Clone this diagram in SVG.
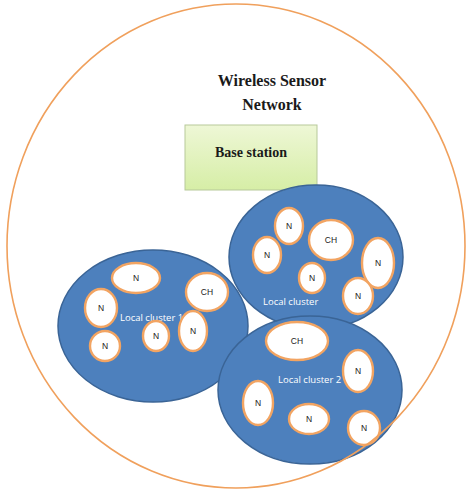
<svg xmlns="http://www.w3.org/2000/svg" width="467" height="492" viewBox="0 0 467 492">
  <defs>
    <linearGradient id="bsFill" x1="0" y1="0" x2="0" y2="1">
      <stop offset="0" stop-color="#EEF7D6"/>
      <stop offset="1" stop-color="#D6EEA6"/>
    </linearGradient>
  </defs>
  <style>
    .cluster { fill: #4D80BD; stroke: #3A6496; stroke-width: 1.5; }
    .node ellipse { fill: #FFFFFF; stroke: #F2A462; stroke-width: 2.4; }
    .node text { font-family: "Liberation Sans", Arial, sans-serif; font-size: 8.5px; fill: #1A1A1A; text-anchor: middle; dominant-baseline: central; }
    .clabel { font-family: "Open Sans", "Liberation Sans", sans-serif; font-size: 9.5px; fill: #FFFFFF; }
    .title { font-family: "Liberation Serif", "Times New Roman", serif; font-weight: bold; font-size: 16px; fill: #1A1A1A; text-anchor: middle; }
  </style>

  <!-- title -->
  <text class="title" x="272" y="86">Wireless Sensor</text>
  <text class="title" x="272" y="110">Network</text>

  <!-- base station -->
  <g id="base-station">
    <rect x="185" y="125" width="132" height="65" fill="url(#bsFill)" stroke="#B7C99A" stroke-width="1"/>
    <text x="251" y="157" font-family="Liberation Serif, 'Times New Roman', serif" font-weight="bold" font-size="14" fill="#1A1A1A" text-anchor="middle">Base station</text>
  </g>

  <!-- local cluster 1 -->
  <g id="cluster-1">
    <ellipse class="cluster" cx="153" cy="326" rx="95" ry="76"/>
    <text class="clabel" x="120" y="321">Local cluster 1</text>
    <g class="node" id="c1-n1"><ellipse cx="136" cy="278" rx="24" ry="15"/><text x="136" y="278">N</text></g>
    <g class="node" id="c1-ch"><ellipse cx="207" cy="292" rx="21" ry="19"/><text x="207" y="292">CH</text></g>
    <g class="node" id="c1-n2"><ellipse cx="101" cy="308" rx="16" ry="19"/><text x="101" y="308">N</text></g>
    <g class="node" id="c1-n3"><ellipse cx="105" cy="346" rx="15" ry="15"/><text x="105" y="346">N</text></g>
    <g class="node" id="c1-n4"><ellipse cx="156" cy="336" rx="13" ry="15"/><text x="156" y="336">N</text></g>
    <g class="node" id="c1-n5"><ellipse cx="193" cy="331" rx="14" ry="20"/><text x="193" y="331">N</text></g>
  </g>

  <!-- local cluster (upper right) -->
  <g id="cluster-0">
    <ellipse class="cluster" cx="316" cy="257" rx="87" ry="72"/>
    <text class="clabel" x="263" y="305">Local cluster</text>
    <g class="node" id="c0-n1"><ellipse cx="289" cy="226" rx="14" ry="18"/><text x="289" y="226">N</text></g>
    <g class="node" id="c0-ch"><ellipse cx="331" cy="240" rx="22" ry="20"/><text x="331" y="240">CH</text></g>
    <g class="node" id="c0-n2"><ellipse cx="267" cy="255" rx="14" ry="18"/><text x="267" y="255">N</text></g>
    <g class="node" id="c0-n3"><ellipse cx="312" cy="278" rx="13" ry="15"/><text x="312" y="278">N</text></g>
    <g class="node" id="c0-n4"><ellipse cx="378" cy="263" rx="16" ry="25"/><text x="378" y="263">N</text></g>
    <g class="node" id="c0-n5"><ellipse cx="358" cy="296" rx="15" ry="18"/><text x="358" y="296">N</text></g>
  </g>

  <!-- local cluster 2 -->
  <g id="cluster-2">
    <ellipse class="cluster" cx="310" cy="390" rx="92" ry="74"/>
    <text class="clabel" x="278" y="383">Local cluster 2</text>
    <g class="node" id="c2-ch"><ellipse cx="297" cy="341" rx="31" ry="19"/><text x="297" y="341">CH</text></g>
    <g class="node" id="c2-n1"><ellipse cx="358" cy="371" rx="15" ry="21"/><text x="358" y="371">N</text></g>
    <g class="node" id="c2-n2"><ellipse cx="258" cy="403" rx="15" ry="22"/><text x="258" y="403">N</text></g>
    <g class="node" id="c2-n3"><ellipse cx="309" cy="419" rx="20" ry="15"/><text x="309" y="419">N</text></g>
    <g class="node" id="c2-n4"><ellipse cx="364" cy="428" rx="16" ry="17"/><text x="364" y="428">N</text></g>
  </g>

  <!-- network boundary -->
  <g id="connectors">
    <ellipse cx="236" cy="246" rx="229" ry="242" fill="none" stroke="#F0A05C" stroke-width="1.6"/>
  </g>
</svg>
